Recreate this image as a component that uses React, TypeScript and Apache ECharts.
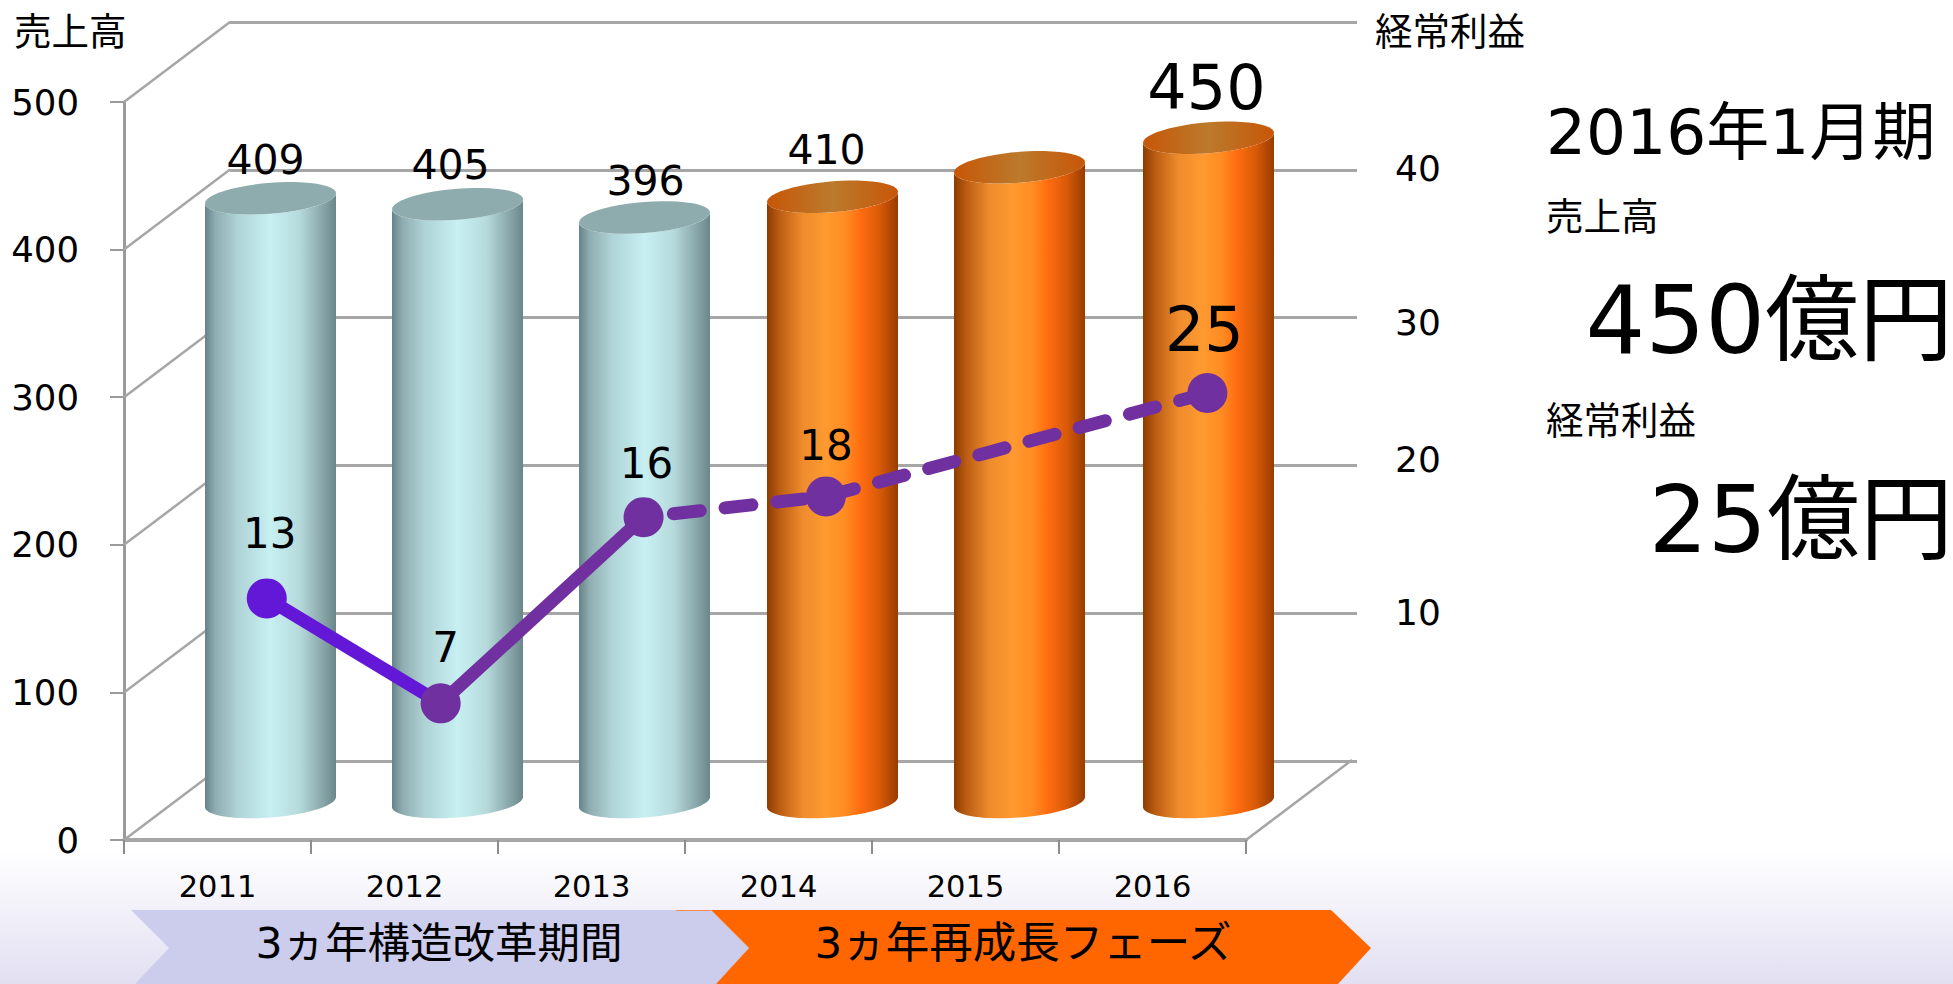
import React, { useEffect, useRef } from "react";
import * as echarts from "echarts";

const years = ["2011", "2012", "2013", "2014", "2015", "2016"];
const sales = [409, 405, 396, 410, 430, 450];
const salesLabels = ["409", "405", "396", "410", "", "450"];
const salesTicks = [0, 100, 200, 300, 400, 500];
const profitLabels = ["13", "7", "16", "18", "25"];
// Marker positions (year position, height on the right-hand scale)
const profitYears = [2010.98, 2011.91, 2012.995, 2013.97, 2016.01];
const profitHeights = [11, 3.9, 16.5, 17.9, 24.9];
const periods = ["3ヵ年構造改革期間", "3ヵ年再成長フェーズ"];

const FONT = '"DejaVu Sans", "Noto Sans CJK JP", sans-serif';
const GRID_COLOR = "#a6a6a6";
const DEPTH_X = 106;
const DEPTH_Y = -80;
const MID_X = 53;
const MID_Y = -38;
const RADIUS_X = 65.5;
const RADIUS_Y = 15.5;
const TILT = 5 / 65.5;
const cylinderNudge = [0, 0, 0, 1, 1, 3];

const barLabelStyle = [
  { dx: -5, dy: -38, size: 41 },
  { dx: -7, dy: -39, size: 41 },
  { dx: 1, dy: -37, size: 41 },
  { dx: -6, dy: -47, size: 41 },
  { dx: 0, dy: 0, size: 41 },
  { dx: -2, dy: -50, size: 62 },
];
const markerLabelStyle = [
  { off: [3, -65], size: 42 },
  { off: [5, -56], size: 42 },
  { off: [3, -54], size: 42 },
  { off: [0, -51], size: 42 },
  { off: [-3, -63], size: 62 },
];

const grad = (stops: [number, string][]) =>
  new echarts.graphic.LinearGradient(0, 0, 1, 0, stops.map(([offset, color]) => ({ offset, color })));

const tealSide: [number, string][] = [
  [0, "#64838a"], [0.08, "#8fadb0"], [0.25, "#afd3d6"], [0.5, "#c7f0f2"], [0.72, "#b6dadc"], [0.9, "#88a6a9"], [1, "#6a8689"],
];
const orangeSide: [number, string][] = [
  [0, "#8c3c00"], [0.1, "#bd5e14"], [0.27, "#ee8b2c"], [0.45, "#ff9a30"], [0.6, "#ff8c22"], [0.72, "#ff6c10"], [0.86, "#d85a08"], [1, "#983c00"],
];
const orangeTop: [number, string][] = [
  [0, "#c85608"], [0.5, "#bb7a2c"], [1, "#c85608"],
];

function ellipsePoints(cx: number, cy: number, from = 0, to = Math.PI * 2) {
  const pts: number[][] = [];
  const n = 48;
  for (let i = 0; i <= n; i++) {
    const t = from + ((to - from) * i) / n;
    const x = RADIUS_X * Math.cos(t);
    pts.push([cx + x, cy + RADIUS_Y * Math.sin(t) - TILT * x]);
  }
  return pts;
}

export default function App() {
  const ref = useRef<HTMLDivElement>(null);
  useEffect(() => {
    document.body.style.margin = "0";
    const chart = echarts.init(ref.current!, undefined, { renderer: "svg" });

    // data item: [category index, value, side (-1 = left edge of band, 1 = right edge)]
    const renderDepth = (_: any, api: any) => {
      const p = api.coord([api.value(0), api.value(1)]);
      const band = api.size([1, 0])[0];
      const x = p[0] + (api.value(2) * band) / 2;
      return {
        type: "line",
        shape: { x1: x, y1: p[1], x2: x + DEPTH_X, y2: p[1] + DEPTH_Y },
        style: { stroke: GRID_COLOR, lineWidth: 2.5 },
      };
    };

    const renderCylinder = (params: any, api: any) => {
      const i = params.dataIndex;
      const top = api.coord([i, api.value(1)]);
      const base = api.coord([i, 0]);
      const cx = top[0] + MID_X + cylinderNudge[i];
      const topY = top[1] + MID_Y;
      const baseY = base[1] + MID_Y;
      const orange = i >= 3;
      const side = [
        ...ellipsePoints(cx, topY, Math.PI, 0),
        ...ellipsePoints(cx, baseY, 0, Math.PI),
      ];
      const ls = barLabelStyle[i];
      return {
        type: "group",
        children: [
          { type: "polygon", shape: { points: side }, style: { fill: grad(orange ? orangeSide : tealSide) } },
          {
            type: "polygon",
            shape: { points: ellipsePoints(cx, topY) },
            style: { fill: orange ? grad(orangeTop) : "#8eabad" },
          },
          {
            type: "text",
            x: cx + ls.dx,
            y: topY + ls.dy,
            style: {
              text: salesLabels[i],
              fill: "#000",
              font: `${ls.size}px ${FONT}`,
              align: "center",
              verticalAlign: "middle",
            },
          },
        ],
      };
    };

    const text = (t: string, x: number, y: number, size: number, align = "left") => ({
      type: "text",
      x,
      y,
      style: { text: t, fill: "#000", font: `${size}px ${FONT}`, align, verticalAlign: "middle" },
    });

    const rightLabelBase = { color: "#000", fontSize: 36, fontFamily: FONT };

    chart.setOption({
      animation: false,
      backgroundColor: "transparent",
      grid: [
        { left: 124, top: 102, width: 1122, height: 738 },
        { left: 230, top: 22, width: 1127, height: 739 },
        { left: 177, top: 22, width: 1122, height: 739 },
      ],
      xAxis: [
        {
          type: "category",
          gridIndex: 0,
          data: years,
          axisLine: { lineStyle: { color: GRID_COLOR, width: 4 } },
          axisTick: { show: true, length: 14, lineStyle: { color: "#8c8c8c", width: 2 } },
          axisLabel: { color: "#000", fontSize: 30.5, fontFamily: FONT, margin: 31 },
        },
        { type: "value", gridIndex: 1, min: 0, max: 1, show: false },
        { type: "value", gridIndex: 2, min: 2010.5, max: 2016.5, show: false },
      ],
      yAxis: [
        {
          type: "value",
          gridIndex: 0,
          min: 0,
          max: 500,
          interval: 100,
          splitLine: { show: false },
          axisLine: { show: true, lineStyle: { color: "#9a9a9a", width: 3 } },
          axisTick: { show: true, length: 14, lineStyle: { color: "#9a9a9a", width: 2 } },
          axisLabel: { color: "#000", fontSize: 35.5, fontFamily: FONT, margin: 45, padding: [0, 0, 4, 0] },
        },
        {
          type: "value",
          gridIndex: 1,
          position: "right",
          min: 0,
          max: 50,
          interval: 10,
          splitLine: { show: true, lineStyle: { color: GRID_COLOR, width: 3 } },
          axisLine: { show: false },
          axisTick: { show: false },
          axisLabel: {
            ...rightLabelBase,
            margin: 38,
            formatter: (v: number) =>
              v === 0 || v === 50 ? "" : v === 30 ? `{low|${v}}` : v === 20 ? `{high|${v}}` : `{plain|${v}}`,
            rich: {
              plain: { ...rightLabelBase, padding: [0, 0, 2, 0] },
              low: { ...rightLabelBase, padding: [10, 0, 0, 0] },
              high: { ...rightLabelBase, padding: [0, 0, 12, 0] },
            },
          },
        },
        { type: "value", gridIndex: 2, min: 0, max: 50, interval: 10, show: false },
      ],
      series: [
        {
          type: "custom",
          name: "depth",
          xAxisIndex: 0,
          yAxisIndex: 0,
          z: 1,
          silent: true,
          clip: false,
          encode: { x: 0, y: 1 },
          data: [
            ...salesTicks.map((v) => [0, v, -1]),
            [5, 0, 1],
          ],
          renderItem: renderDepth,
        },
        {
          type: "custom",
          name: "売上高",
          xAxisIndex: 0,
          yAxisIndex: 0,
          z: 3,
          clip: false,
          encode: { x: 0, y: 1 },
          data: sales.map((v, i) => [i, v]),
          renderItem: renderCylinder,
        },
        {
          type: "line",
          name: "seg1",
          xAxisIndex: 2,
          yAxisIndex: 2,
          z: 5,
          symbol: "none",
          lineStyle: { color: "#6318d8", width: 13 },
          data: [0, 1].map((i) => [profitYears[i], profitHeights[i]]),
        },
        {
          type: "line",
          name: "seg2",
          xAxisIndex: 2,
          yAxisIndex: 2,
          z: 5,
          symbol: "none",
          lineStyle: { color: "#7030a0", width: 13 },
          data: [1, 2].map((i) => [profitYears[i], profitHeights[i]]),
        },
        {
          type: "line",
          name: "seg3",
          xAxisIndex: 2,
          yAxisIndex: 2,
          z: 5,
          symbol: "none",
          lineStyle: { color: "#7030a0", width: 13, type: [27, 25], cap: "round", dashOffset: -30 },
          data: [2, 3, 4].map((i) => [profitYears[i], profitHeights[i]]),
        },
        {
          type: "scatter",
          name: "経常利益",
          xAxisIndex: 2,
          yAxisIndex: 2,
          z: 6,
          symbolSize: 40,
          data: profitYears.map((x, i) => ({
            value: [x, profitHeights[i]],
            itemStyle: { color: i === 0 ? "#6318d8" : "#7030a0", opacity: 1 },
            label: {
              show: true,
              position: "inside",
              offset: markerLabelStyle[i].off,
              formatter: profitLabels[i],
              color: "#000",
              fontSize: markerLabelStyle[i].size,
              fontFamily: FONT,
            },
          })),
        },
      ],
      graphic: [
        {
          type: "polygon",
          shape: { points: [[131, 910], [169, 948], [135, 984], [716, 984], [749, 948], [711, 910]] },
          style: { fill: "#ccccec" },
        },
        {
          type: "polygon",
          shape: { points: [[711, 910], [749, 948], [716, 984], [1338, 984], [1371, 948], [1331, 910]] },
          style: { fill: "#ff6600" },
        },
        { type: "line", shape: { x1: 676, y1: 910.5, x2: 711, y2: 910.5 }, style: { stroke: "#ff8a4a", lineWidth: 1 } },
        text(periods[0], 439, 943, 42.5, "center"),
        text(periods[1], 1023, 943, 43.5, "center"),
        text("売上高", 14, 32, 37.5),
        text("経常利益", 1375, 32, 37.5),
        text("2016年1月期", 1546, 132, 63),
        text("売上高", 1546, 217, 37.5),
        text("450億円", 1953, 320, 94, "right"),
        text("経常利益", 1546, 421, 37.5),
        text("25億円", 1953, 520, 93, "right"),
      ],
    });
    return () => chart.dispose();
  }, []);
  return (
    <div
      ref={ref}
      style={{
        position: "fixed",
        left: 0,
        top: 0,
        width: 1953,
        height: 984,
        background: "linear-gradient(to bottom, #ffffff 0, #ffffff 850px, #e2dff2 984px)",
      }}
    />
  );
}
